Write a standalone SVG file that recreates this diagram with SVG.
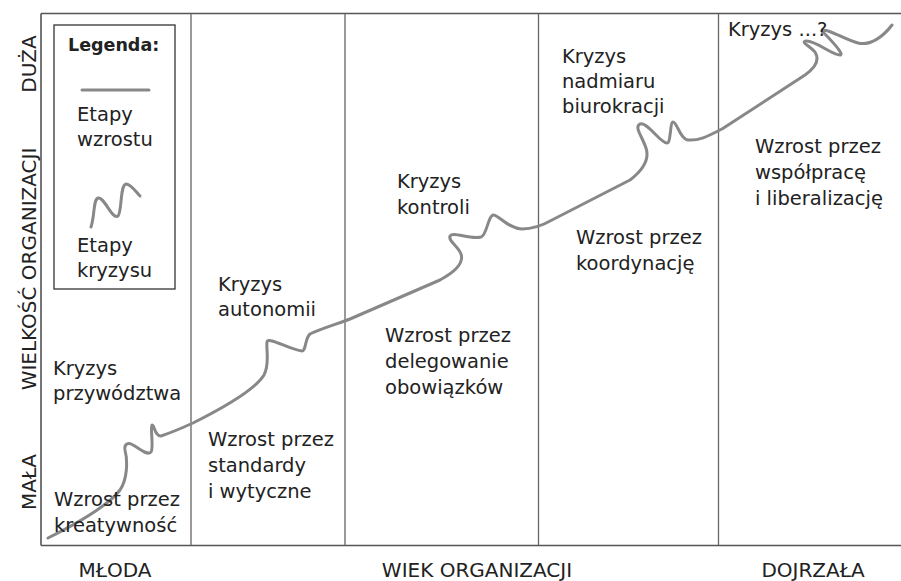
<svg xmlns="http://www.w3.org/2000/svg" width="901" height="581" viewBox="0 0 901 581">
<style>
.t{font-family:"DejaVu Sans","Liberation Sans",sans-serif;font-size:19.5px;fill:#222}
.ax{font-family:"DejaVu Sans","Liberation Sans",sans-serif;font-size:20px;fill:#222;text-anchor:middle}
.frame{stroke:#555;stroke-width:1.6;fill:none}
.col{stroke:#666;stroke-width:1.3;fill:none}
.curve{stroke:#888;stroke-width:3;fill:none;stroke-linecap:round;stroke-linejoin:round}
</style>
<rect width="901" height="581" fill="#fff"/>
<g id="frame">
<path class="frame" d="M41,13.5 H901 M41,13.5 V545.5 M41,545.5 H901"/>
<path class="col" d="M191,13.5 V545.5 M345,13.5 V545.5 M538.5,13.5 V545.5 M718.5,13.5 V545.5"/>
</g>
<g id="axis-labels">
<text class="ax" transform="translate(36,64) rotate(-90)">DUŻA</text>
<text class="ax" transform="translate(36,269) rotate(-90)">WIELKOŚĆ ORGANIZACJI</text>
<text class="ax" transform="translate(36,482) rotate(-90)">MAŁA</text>
<text class="ax" x="115" y="577">MŁODA</text>
<text class="ax" x="477" y="577">WIEK ORGANIZACJI</text>
<text class="ax" x="813" y="577">DOJRZAŁA</text>
</g>
<g id="legend">
<rect x="54" y="25" width="121" height="264" fill="none" stroke="#333" stroke-width="1.3"/>
<text x="68" y="51" style="font-family:'DejaVu Sans','Liberation Sans',sans-serif;font-size:17.5px;font-weight:bold;fill:#222">Legenda:</text>
<line x1="82" y1="90" x2="149" y2="90" class="curve"/>
<text class="t" x="77" y="121">Etapy</text>
<text class="t" x="77" y="146">wzrostu</text>
<path class="curve" d="M91,227 C95,215 93,200 98,198 C104,196 112,220 118,216 C122,212 120,185 126,184 C131,184 136,192 140,196"/>
<text class="t" x="77" y="252">Etapy</text>
<text class="t" x="77" y="277">kryzysu</text>
</g>
<g id="connectors">
<path class="curve" d="M48,538 C80,522 108,506 120,490 C127,480 128,462 125,450 C124,444 128,442 133,445 C140,449 147,456 151,452 C154,448 150,427 152,425 C154,424 155,437 161,436 C170,433 182,428 193,423 C225,407 255,390 264,375 C270,364 266,350 267,342 C268,336 290,350 302,351 C306,351 305,338 310,334 C320,329 340,323 350,319 L440,280 C455,272 464,263 461,254 C458,246 448,241 450,236 C453,231 470,240 481,237 C487,235 488,216 493,215 C498,214 508,229 522,229 C535,229 545,224 552,220 L630,180 C643,170 650,160 646,148 C642,136 634,127 640,124 C647,121 660,143 667,143 C671,143 670,122 673,122 C677,122 680,139 688,140 C700,141 710,135 722,129 L805,75 C815,68 820,60 815,52 C810,46 800,42 806,41 C815,40 832,55 840,55 C846,55 825,34 822,31 C826,27 845,40 858,43 C870,46 883,37 892,25"/>
</g>
<g id="stage1">
<text class="t" x="53" y="375">Kryzys</text>
<text class="t" x="53" y="400">przywództwa</text>
<text class="t" x="54" y="506">Wzrost przez</text>
<text class="t" x="54" y="532">kreatywność</text>
</g>
<g id="stage2">
<text class="t" x="218" y="291">Kryzys</text>
<text class="t" x="218" y="316">autonomii</text>
<text class="t" x="208" y="446">Wzrost przez</text>
<text class="t" x="208" y="472">standardy</text>
<text class="t" x="208" y="498">i wytyczne</text>
</g>
<g id="stage3">
<text class="t" x="397" y="188">Kryzys</text>
<text class="t" x="397" y="214">kontroli</text>
<text class="t" x="385" y="342">Wzrost przez</text>
<text class="t" x="385" y="368">delegowanie</text>
<text class="t" x="385" y="394">obowiązków</text>
</g>
<g id="stage4">
<text class="t" x="562" y="63">Kryzys</text>
<text class="t" x="562" y="88">nadmiaru</text>
<text class="t" x="562" y="113">biurokracji</text>
<text class="t" x="576" y="244">Wzrost przez</text>
<text class="t" x="576" y="270">koordynację</text>
</g>
<g id="stage5">
<text class="t" x="728" y="36">Kryzys ...?</text>
<text class="t" x="755" y="153">Wzrost przez</text>
<text class="t" x="755" y="179">współpracę</text>
<text class="t" x="755" y="205">i liberalizację</text>
</g>
</svg>
